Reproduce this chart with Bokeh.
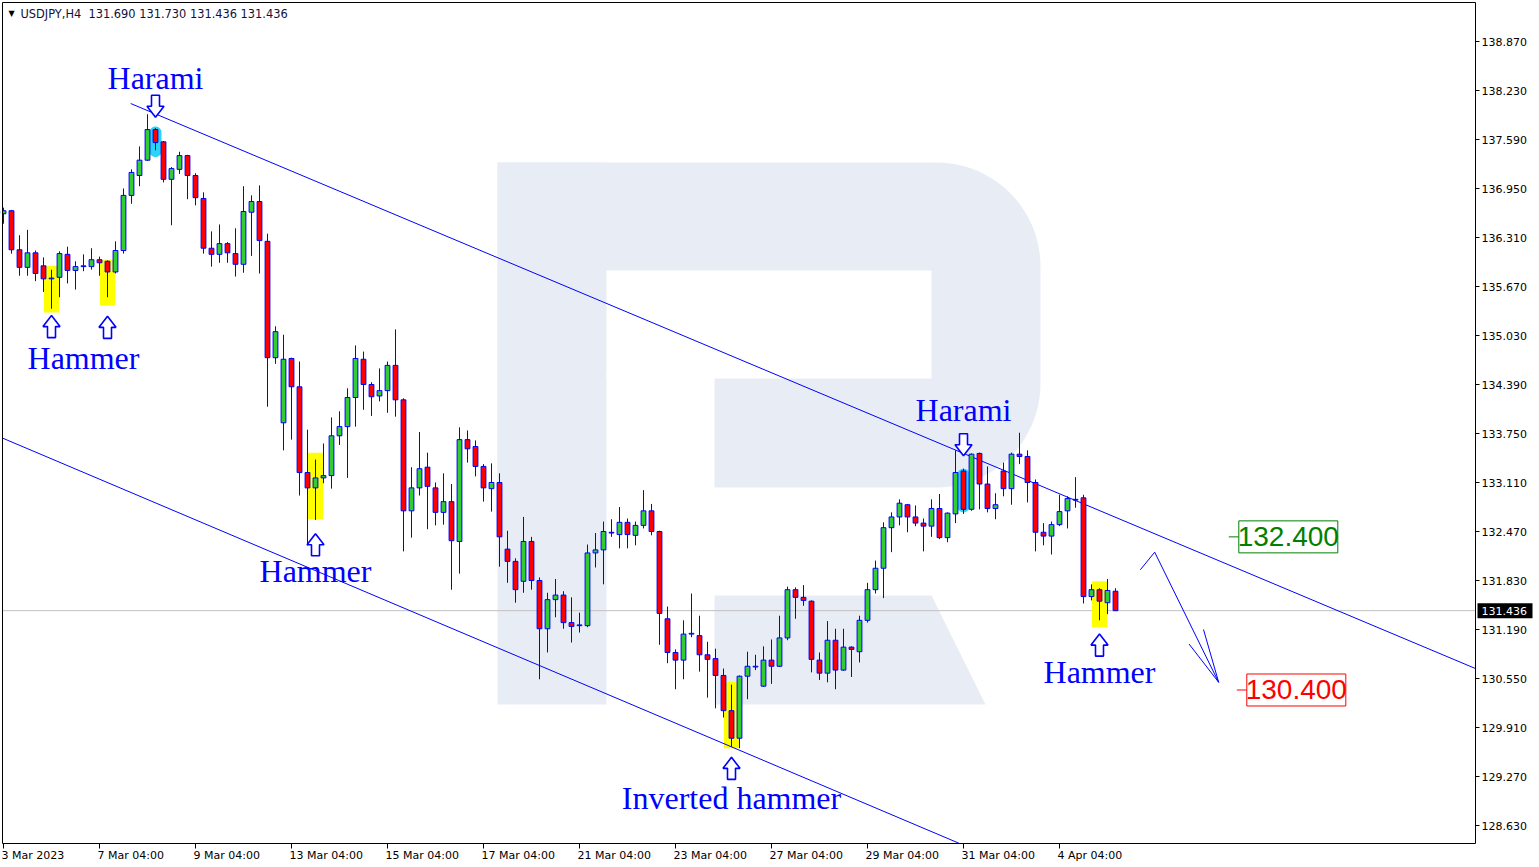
import numpy as np
from bokeh.plotting import figure
from bokeh.models import Range1d, ColumnDataSource
from bokeh.core.properties import value
from bokeh.embed import file_html
from bokeh.resources import INLINE

# ---------------- data ----------------
header = "USDJPY,H4\u00a0\u00a0131.690 131.730 131.436 131.436"

opens = [136.62, 136.66, 136.15, 135.92, 136.11, 135.94, 135.77, 135.79, 136.09, 135.88,
         135.93, 135.93, 136.02, 136.00, 135.86, 136.14, 136.86, 137.12, 137.32, 137.72,
         137.56, 137.07, 137.20, 137.38, 137.12, 136.82, 136.17, 136.09, 136.23, 136.10,
         135.96, 136.64, 136.78, 136.26, 134.74, 133.89, 134.73, 134.36, 133.24, 133.04,
         133.17, 133.20, 133.72, 133.84, 134.22, 134.72, 134.39, 134.24, 134.31, 134.64,
         134.19, 132.74, 133.04, 133.31, 133.04, 132.72, 132.86, 132.34, 133.67, 133.58,
         133.32, 133.03, 133.11, 132.24, 132.08, 131.82, 132.34, 131.83, 131.20, 131.58,
         131.64, 131.28, 131.24, 131.24, 132.19, 132.23, 132.46, 132.43, 132.59, 132.42,
         132.55, 132.74, 132.47, 131.33, 130.89, 130.79, 131.13, 131.11, 130.86, 130.81,
         130.59, 130.13, 129.77, 130.58, 130.70, 130.45, 130.79, 130.71, 131.08, 131.71,
         131.61, 131.56, 130.79, 130.62, 131.05, 130.66, 130.96, 130.90, 131.31, 131.71,
         131.99, 132.52, 132.66, 132.82, 132.66, 132.58, 132.54, 132.77, 132.39, 132.70,
         133.26, 132.76, 133.49, 133.09, 132.77, 133.26, 133.03, 133.48, 133.45, 133.11,
         132.46, 132.41, 132.56, 132.74, 132.89, 132.91, 131.62, 131.71, 131.54, 131.690]
highs = [136.70, 136.67, 136.34, 136.41, 136.14, 136.05, 135.89, 136.13, 136.19, 136.00,
         136.09, 136.17, 136.06, 136.01, 136.26, 136.95, 137.20, 137.50, 137.92, 137.74,
         137.57, 137.23, 137.43, 137.39, 137.15, 136.90, 136.39, 136.48, 136.25, 136.43,
         136.98, 136.86, 136.99, 136.36, 135.15, 135.04, 134.74, 134.69, 133.80, 133.41,
         133.62, 133.96, 134.04, 134.34, 134.90, 134.82, 134.42, 134.60, 134.69, 135.11,
         134.21, 133.31, 133.77, 133.50, 133.11, 133.23, 133.09, 133.83, 133.79, 133.66,
         133.35, 133.36, 133.23, 132.48, 132.12, 132.66, 132.40, 131.87, 131.67, 131.85,
         131.69, 131.61, 131.41, 132.30, 132.45, 132.60, 132.63, 132.79, 132.64, 132.60,
         133.01, 132.83, 132.48, 131.49, 130.93, 131.31, 131.66, 131.37, 131.03, 130.94,
         130.68, 130.47, 130.59, 130.90, 130.86, 130.97, 131.06, 131.37, 131.75, 131.74,
         131.77, 131.57, 130.89, 131.30, 131.20, 131.20, 130.97, 131.37, 131.80, 132.09,
         132.59, 132.72, 132.89, 132.83, 132.81, 132.64, 132.89, 132.96, 132.72, 133.53,
         133.29, 133.49, 133.50, 133.32, 132.97, 133.37, 133.50, 133.76, 133.53, 133.15,
         132.58, 132.60, 132.95, 132.93, 133.18, 132.95, 131.78, 131.73, 131.85, 131.730]
lows = [136.49, 136.10, 135.81, 135.81, 135.74, 135.60, 135.38, 135.53, 135.71, 135.63,
        135.87, 135.89, 135.81, 135.53, 135.84, 136.10, 136.75, 136.98, 137.31, 137.45,
        137.03, 136.47, 137.14, 136.81, 136.73, 136.10, 135.93, 135.98, 135.98, 135.80,
        135.85, 136.07, 135.84, 134.10, 134.66, 133.53, 133.67, 132.94, 132.29, 132.62,
        133.10, 133.03, 133.60, 133.17, 133.84, 134.06, 133.98, 134.17, 134.02, 133.97,
        132.21, 132.39, 132.94, 132.50, 132.55, 132.56, 131.71, 131.92, 133.37, 133.19,
        132.86, 132.73, 132.01, 131.80, 131.54, 131.67, 131.71, 130.54, 130.89, 131.35,
        131.20, 131.02, 131.15, 131.22, 132.00, 131.78, 132.40, 132.25, 132.25, 132.29,
        132.51, 132.42, 130.99, 130.75, 130.41, 130.54, 131.09, 130.64, 130.30, 130.16,
        130.04, 129.66, 129.64, 130.28, 130.66, 130.44, 130.48, 130.70, 131.05, 131.33,
        131.50, 130.63, 130.53, 130.50, 130.41, 130.65, 130.57, 130.76, 131.28, 131.66,
        131.60, 132.20, 132.55, 132.46, 132.54, 132.21, 132.40, 132.37, 132.33, 132.58,
        132.70, 132.74, 132.76, 132.72, 132.63, 132.93, 132.82, 133.35, 132.85, 132.21,
        132.29, 132.17, 132.54, 132.51, 132.78, 131.53, 131.57, 131.31, 131.39, 131.436]
closes = [136.66, 136.15, 135.92, 136.11, 135.84, 135.77, 135.78, 136.10, 135.88, 135.93,
          135.94, 136.02, 135.98, 135.86, 136.14, 136.86, 137.16, 137.32, 137.72, 137.55,
          137.07, 137.21, 137.38, 137.12, 136.83, 136.17, 136.09, 136.23, 136.11, 135.96,
          136.65, 136.78, 136.27, 134.74, 135.08, 134.72, 134.36, 133.24, 133.04, 133.17,
          133.20, 133.72, 133.84, 134.22, 134.73, 134.39, 134.23, 134.31, 134.64, 134.19,
          132.74, 133.04, 133.29, 133.06, 132.72, 132.86, 132.35, 133.67, 133.55, 133.32,
          133.04, 133.11, 132.40, 132.08, 131.71, 132.34, 131.83, 131.20, 131.58, 131.64,
          131.28, 131.23, 131.25, 132.19, 132.23, 132.47, 132.45, 132.59, 132.43, 132.55,
          132.74, 132.47, 131.40, 130.89, 130.79, 131.13, 131.14, 130.86, 130.80, 130.59,
          130.13, 129.77, 130.58, 130.71, 130.71, 130.79, 130.71, 131.08, 131.71, 131.61,
          131.57, 130.80, 130.62, 131.05, 130.66, 130.96, 130.93, 131.31, 131.71, 131.99,
          132.52, 132.66, 132.84, 132.66, 132.58, 132.54, 132.77, 132.39, 132.71, 133.24,
          132.76, 133.48, 133.09, 132.77, 132.82, 133.03, 133.48, 133.45, 133.11, 132.46,
          132.41, 132.56, 132.73, 132.90, 132.88, 131.62, 131.71, 131.56, 131.70, 131.436]

tick_idx = [0, 12, 24, 36, 48, 60, 72, 84, 96, 108, 120, 132]
tick_labels = ["3 Mar 2023", "7 Mar 04:00", "9 Mar 04:00", "13 Mar 04:00", "15 Mar 04:00",
               "17 Mar 04:00", "21 Mar 04:00", "23 Mar 04:00", "27 Mar 04:00", "29 Mar 04:00",
               "31 Mar 04:00", "4 Apr 04:00"]
y_ticks = [128.630, 129.270, 129.910, 130.550, 131.190, 131.830, 132.470, 133.110, 133.750,
           134.390, 135.030, 135.670, 136.310, 136.950, 137.590, 138.230, 138.870]
last_price = 131.436

upper_channel_x = [15.9, 184.0]
upper_channel_y = [138.06, 130.68]
lower_channel_x = [-0.12, 119.4]
lower_channel_y = [133.69, 128.40]

forecast_x = [142.1, 143.9, 151.9]
forecast_y = [131.97, 132.20, 130.50]
forecast_head_x = [148.2, 151.9, 150.0]
forecast_head_y = [131.00, 130.50, 131.19]

target_levels = [132.400, 130.400]
target_text = ["132.400", "130.400"]
target_colors = ["#008000", "#ff0000"]
target_center_x = [160.6, 161.6]

pattern_labels = ["Harami", "Hammer", "Hammer", "Inverted hammer", "Harami", "Hammer"]
pattern_label_x = [19, 10, 39, 91, 120, 137]
pattern_label_y = [138.39, 134.73, 131.95, 128.99, 134.06, 130.63]

arrow_bars = [19, 6, 13, 39, 91, 120, 137]
arrow_tips = [137.88, 135.29, 135.28, 132.44, 129.52, 133.46, 131.13]
arrow_dirs = ["down", "up", "up", "up", "up", "down", "up"]

yellow_bars = [6, 13, 39, 91, 137]
yellow_top = [135.94, 136.02, 133.50, 130.51, 131.82]
yellow_bottom = [135.33, 135.42, 132.63, 129.64, 131.22]

cyan_bars = [19, 120]
cyan_top = [137.76, 133.29]
cyan_bottom = [137.36, 132.72]

# ---------------- layout helpers (pixel <-> data) ----------------
X0, XS = 3.0, 8.0             # bar 0 at px 3, 8 px per bar
Y_REF, P_REF, YS = 41.0, 138.870, 76.5625
W, H = 1536, 865
PL, PT, PR, PB = 2.0, 2.0, 1475.0, 843.0   # plot-area box in px


def px_x(px):
    return (np.asarray(px, dtype=float) - X0) / XS


def px_y(py):
    return P_REF - (np.asarray(py, dtype=float) - Y_REF) / YS


def x_px(i):
    return X0 + XS * np.asarray(i, dtype=float)


def y_px(pr):
    return Y_REF + (P_REF - np.asarray(pr, dtype=float)) * YS


p = figure(width=W, height=H, output_backend="svg", toolbar_location=None,
           x_range=Range1d(float(px_x(0.0)), float(px_x(W))),
           y_range=Range1d(float(px_y(H)), float(px_y(0.0))),
           x_axis_location=None, y_axis_location=None, tools="")
p.min_border_left = 0
p.min_border_top = 0
p.min_border_right = 0
p.min_border_bottom = 0
p.outline_line_color = None
p.background_fill_color = "white"
p.border_fill_color = "white"
p.xgrid.visible = False
p.ygrid.visible = False

# ---------------- watermark "R" ----------------
WM = "#e8edf5"


def right_rounded(x0, y0, x1, y1, r, n=24):
    pts = [(x0, y0), (x1 - r, y0)]
    for t in np.linspace(-np.pi / 2, 0, n):
        pts.append((x1 - r + r * np.cos(t), y0 + r + r * np.sin(t)))
    for t in np.linspace(0, np.pi / 2, n):
        pts.append((x1 - r + r * np.cos(t), y1 - r + r * np.sin(t)))
    pts.append((x0, y1))
    return [q[0] for q in pts], [q[1] for q in pts]


bx, by = right_rounded(497, 162, 1040, 487, 104)
p.patch(px_x(bx), px_y(by), fill_color=WM, line_color=None)
p.patch(px_x([497, 606, 606, 497]), px_y([162, 162, 704, 704]), fill_color=WM, line_color=None)
p.patch(px_x([606, 931, 931, 606]), px_y([270, 270, 378, 378]), fill_color="white", line_color=None)
p.patch(px_x([606, 714, 714, 606]), px_y([370, 370, 488, 488]), fill_color="white", line_color=None)
p.patch(px_x([714, 931, 985, 714]), px_y([595, 595, 704, 704]), fill_color=WM, line_color=None)

# current price line
p.line(px_x([PL, PR + 2]).tolist(), [last_price, last_price], line_color="#c0c0c0", line_width=1)

# ---------------- highlights ----------------
yb = np.array(yellow_bars, dtype=float)
p.quad(left=yb - 0.95, right=yb + 0.95, top=yellow_top, bottom=yellow_bottom,
       fill_color="#ffff00", line_color=None)


def stadium(cx, top, bottom, half_w, n=16):
    r = half_w
    xs, ys = [], []
    for t in np.linspace(np.pi, 2 * np.pi, n):
        xs.append(cx + r * np.cos(t)); ys.append(top + r + r * np.sin(t))
    for t in np.linspace(0, np.pi, n):
        xs.append(cx + r * np.cos(t)); ys.append(bottom - r + r * np.sin(t))
    return xs, ys


for b, t, bt in zip(cyan_bars, cyan_top, cyan_bottom):
    sx, sy = stadium(float(x_px(b)), float(y_px(t)), float(y_px(bt)), 6.0)
    p.patch(px_x(sx), px_y(sy), fill_color="#2ad4f5", line_color=None)

# ---------------- channel lines ----------------
p.line(upper_channel_x, upper_channel_y, line_color="#0000ff", line_width=1)
p.line(lower_channel_x, lower_channel_y, line_color="#0000ff", line_width=1)

# ---------------- candles ----------------
o = np.array(opens); h = np.array(highs); l = np.array(lows); c = np.array(closes)
idx = np.arange(len(o))
src = ColumnDataSource(dict(
    x=idx, h=h, l=l,
    top=np.maximum(o, c), bottom=np.minimum(o, c),
    color=np.where(c > o, "#32cd32", "#ff0000"),
))
p.segment(x0="x", y0="h", x1="x", y1="l", line_color="#0000ff", line_width=1, source=src)
p.vbar(x="x", width=0.6, top="top", bottom="bottom", fill_color="color",
       line_color="#0000ff", line_width=1, source=src)

# ---------------- pattern arrows & labels ----------------
for b, tip, d in zip(arrow_bars, arrow_tips, arrow_dirs):
    cx = float(x_px(b)); ty = float(y_px(tip))
    dx = [0, 8.5, 4, 4, -4, -4, -8.5]
    dy = [0, 11, 11, 22, 22, 11, 11]
    sgn = 1 if d == "up" else -1
    xs = [cx + v for v in dx]
    ys = [ty + sgn * v for v in dy]
    p.patch(px_x(xs), px_y(ys), fill_color="white", line_color="#0000ff", line_width=1.6)

p.text(x=pattern_label_x, y=pattern_label_y, text=pattern_labels,
       text_font=value("Liberation Serif"), text_font_size="32px", text_color="#0000ff",
       text_align="center", text_baseline="middle")

# ---------------- forecast ----------------
p.line(forecast_x, forecast_y, line_color="#0000ff", line_width=1)
p.line(forecast_head_x, forecast_head_y, line_color="#0000ff", line_width=1)

half_w = 99.0 / XS / 2
half_h = 16.0 / YS
for lvl, txt, col, cxm in zip(target_levels, target_text, target_colors, target_center_x):
    left = cxm - half_w
    p.segment(x0=[left - 10.0 / XS], y0=[lvl], x1=[left], y1=[lvl], line_color=col, line_width=1)
    p.quad(left=[left], right=[cxm + half_w], top=[lvl + half_h], bottom=[lvl - half_h],
           fill_color="white", line_color=col, line_width=1)
    p.text(x=[cxm], y=[lvl], text=[txt], text_font=value("Liberation Sans"),
           text_font_size="28px", text_color=col, text_align="center", text_baseline="middle")

# ---------------- mask outside plot area (acts as clipping) ----------------
p.quad(left=px_x([0, 0, PR, 0]).tolist(), right=px_x([PL, W, W, W]).tolist(),
       top=px_y([0, 0, 0, PB]).tolist(), bottom=px_y([H, PT, H, H]).tolist(),
       fill_color="white", line_color=None)

# ---------------- header ----------------
p.text(x=[float(px_x(8))], y=[float(px_y(13))], text=["\u25bc"], text_font=value("DejaVu Sans"),
       text_font_size="8px", text_color="#000000", text_align="left", text_baseline="middle")
p.text(x=[float(px_x(20))], y=[float(px_y(13))], text=[header], text_font=value("DejaVu Sans"),
       text_font_size="11.4px", text_color="#10103a", text_align="left", text_baseline="middle")

# ---------------- frame + axes ----------------
p.line(px_x([PL, PR, PR, PL, PL]).tolist(), px_y([PT, PT, PB, PB, PT]).tolist(),
       line_color="black", line_width=1)

# right price axis
yt = np.array(y_ticks)
p.segment(x0=[float(px_x(PR))] * len(yt), y0=yt, x1=[float(px_x(PR + 4))] * len(yt), y1=yt,
          line_color="black", line_width=1)
p.text(x=[float(px_x(PR + 6))] * len(yt), y=yt, text=["%.3f" % v for v in y_ticks],
       text_font=value("DejaVu Sans"), text_font_size="11px", text_color="black",
       text_align="left", text_baseline="middle")

# bottom time axis
ti = np.array(tick_idx, dtype=float)
vis = ti >= px_x(PL)
p.segment(x0=ti[vis], y0=[float(px_y(PB))] * int(vis.sum()), x1=ti[vis],
          y1=[float(px_y(PB + 5))] * int(vis.sum()), line_color="black", line_width=1)
lab_x = np.maximum(ti, px_x(PL + 1))
p.text(x=lab_x, y=[float(px_y(855))] * len(ti), text=tick_labels, x_offset=-2,
       text_font=value("DejaVu Sans"), text_font_size="11px", text_color="black",
       text_align="left", text_baseline="middle")

# last price tag
p.quad(left=[float(px_x(PR + 2))], right=[float(px_x(1532))],
       top=[last_price + 7.5 / YS], bottom=[last_price - 7.5 / YS],
       fill_color="black", line_color=None)
p.text(x=[float(px_x(PR + 6))], y=[last_price], text=["%.3f" % last_price],
       text_font=value("DejaVu Sans"), text_font_size="11px", text_color="white",
       text_align="left", text_baseline="middle")

open("out.html", "w").write(file_html(p, INLINE))
